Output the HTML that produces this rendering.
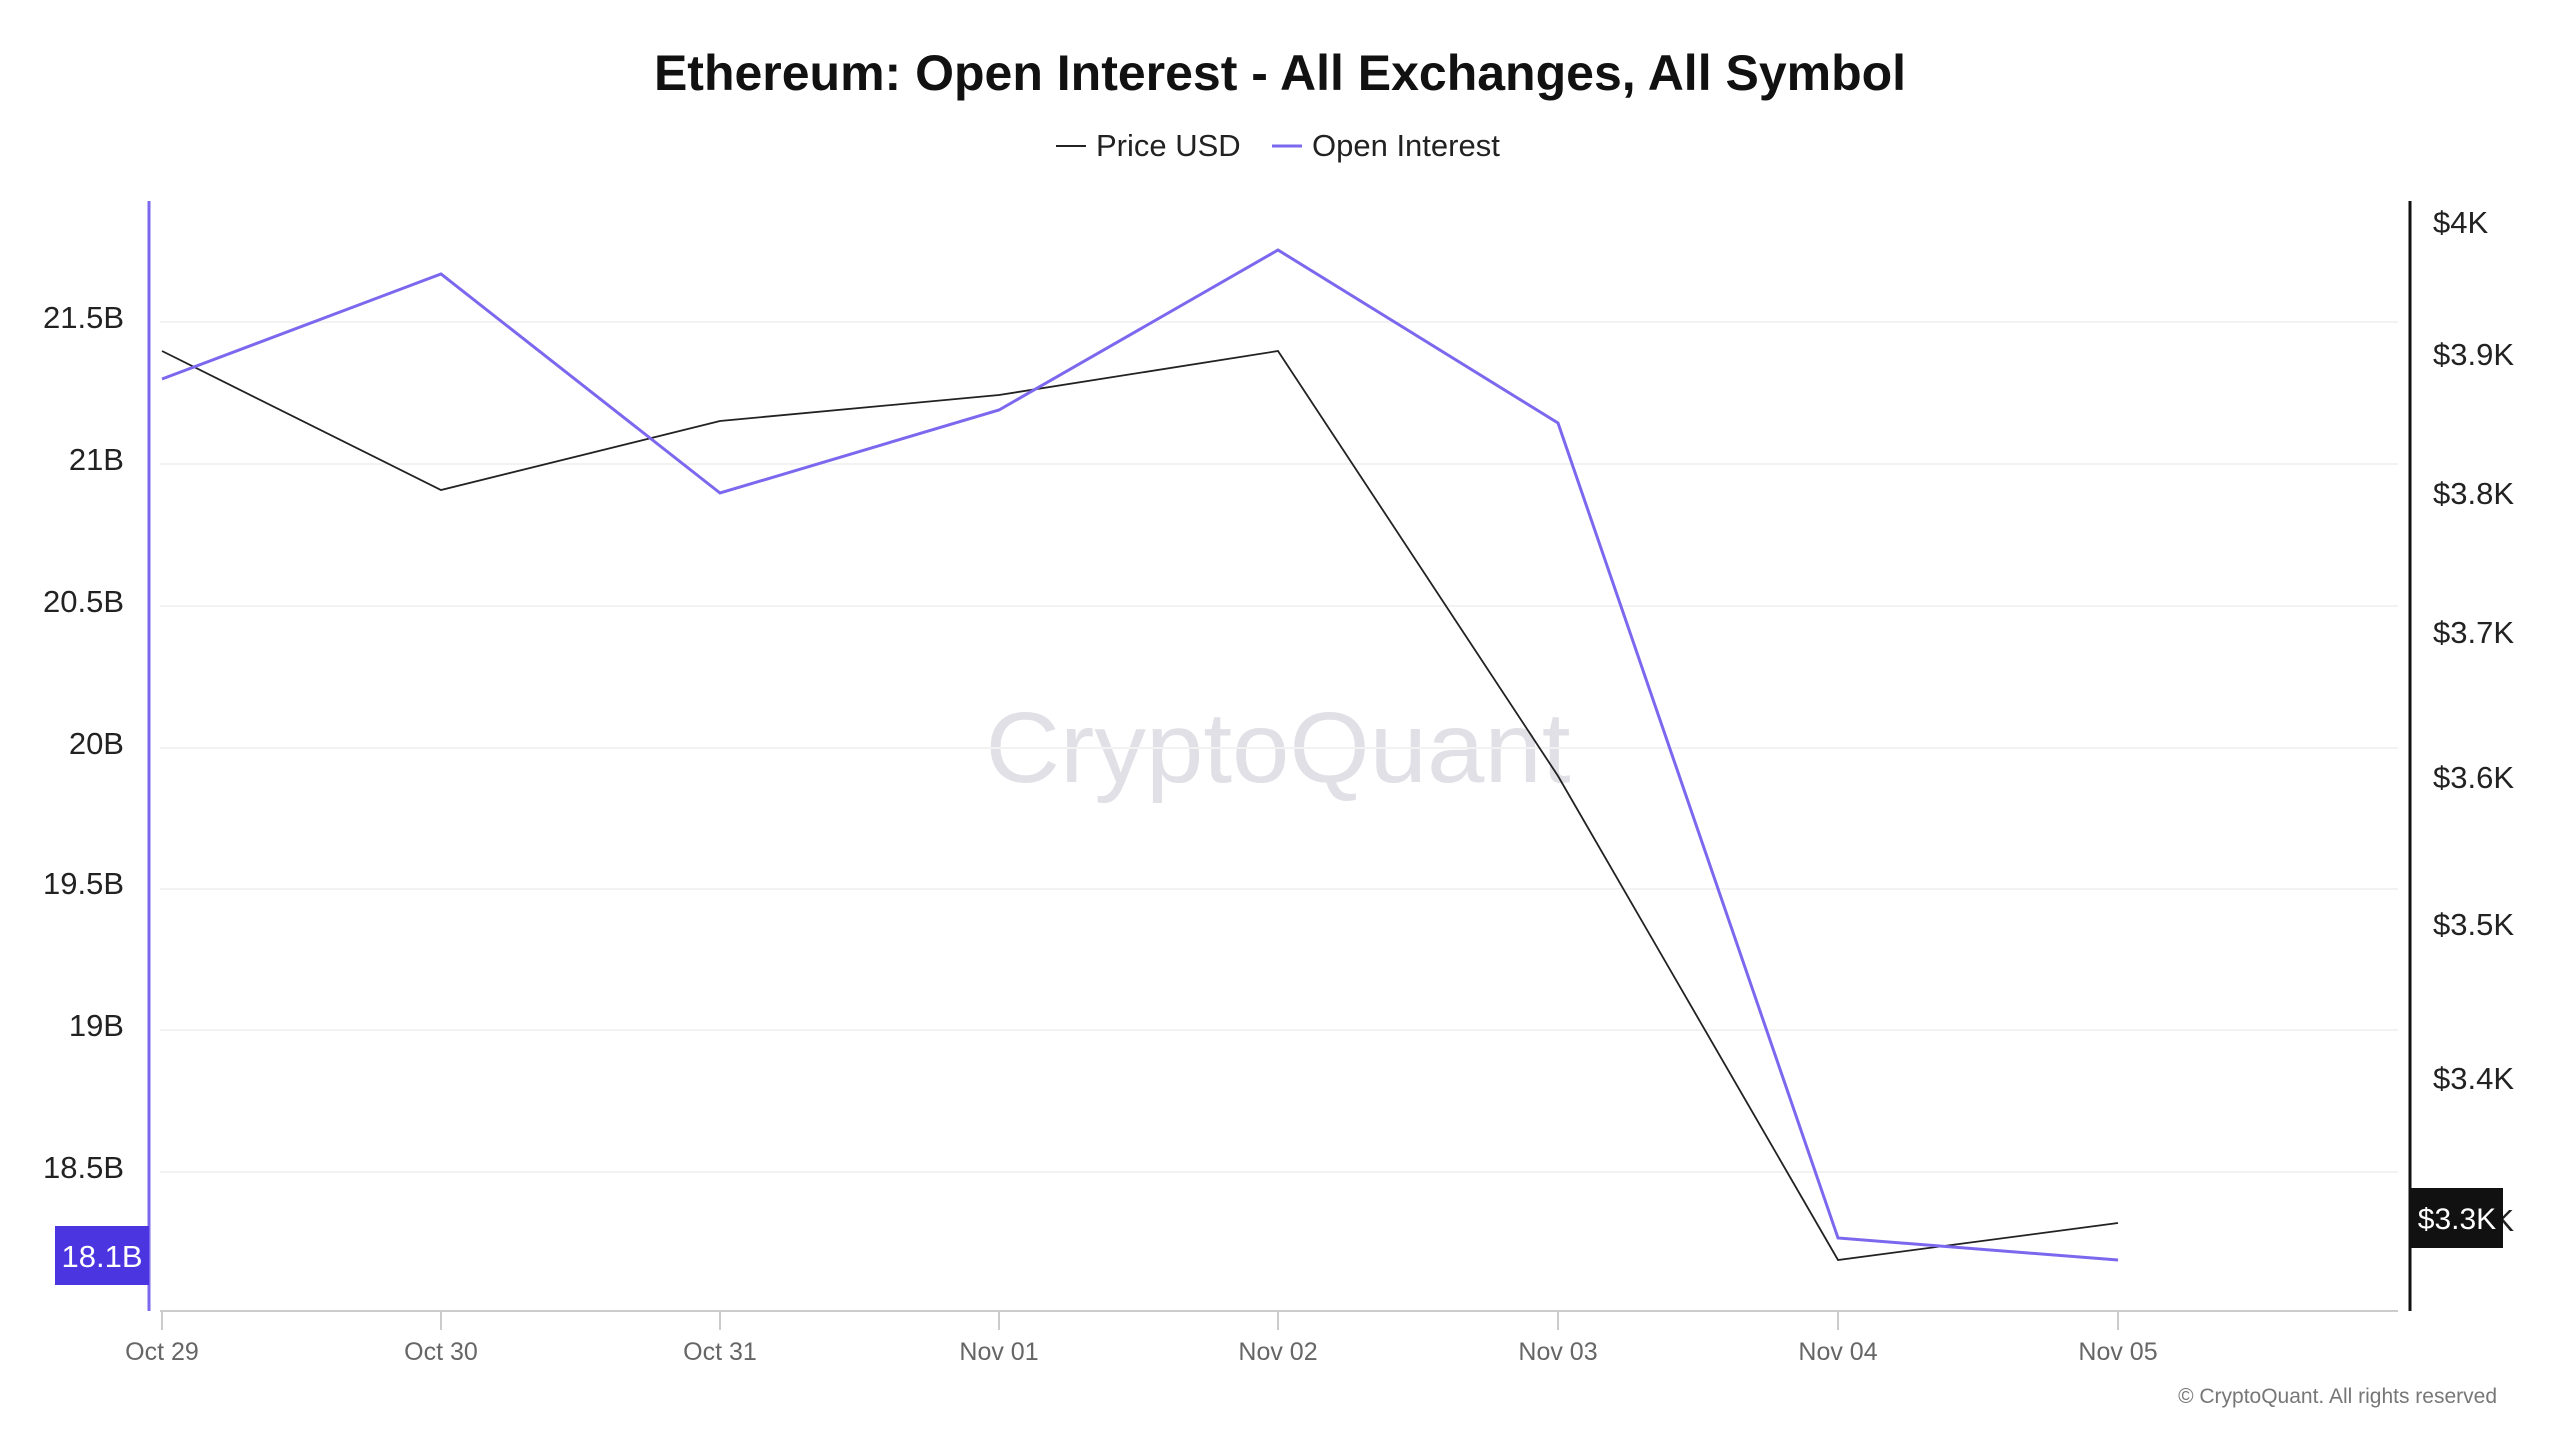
<!DOCTYPE html>
<html><head><meta charset="utf-8"><style>
html,body{margin:0;padding:0;background:#fff;}
svg{display:block;font-family:"Liberation Sans",sans-serif;}
</style></head><body>
<svg width="2560" height="1440" viewBox="0 0 2560 1440" xmlns="http://www.w3.org/2000/svg">
<rect width="2560" height="1440" fill="#fff"/>
<text x="1280" y="90" text-anchor="middle" font-size="50" font-weight="bold" fill="#111">Ethereum: Open Interest - All Exchanges, All Symbol</text>
<line x1="1056" y1="146" x2="1086" y2="146" stroke="#222" stroke-width="2"/>
<text x="1096" y="156" font-size="31" fill="#222">Price USD</text>
<line x1="1272" y1="146" x2="1302" y2="146" stroke="#7b68ee" stroke-width="3"/>
<text x="1312" y="156" font-size="31" fill="#222">Open Interest</text>
<text x="1278" y="782" text-anchor="middle" font-size="100" fill="#e0e0e6" textLength="585" lengthAdjust="spacingAndGlyphs">CryptoQuant</text>
<g stroke="#f2f2f2" stroke-width="2">
<line x1="160" y1="322" x2="2398" y2="322"/><line x1="160" y1="464" x2="2398" y2="464"/>
<line x1="160" y1="606" x2="2398" y2="606"/><line x1="160" y1="748" x2="2398" y2="748"/>
<line x1="160" y1="889" x2="2398" y2="889"/><line x1="160" y1="1030" x2="2398" y2="1030"/>
<line x1="160" y1="1172" x2="2398" y2="1172"/>
</g>
<line x1="160" y1="1311" x2="2398" y2="1311" stroke="#ccc" stroke-width="2"/>
<g stroke="#ccc" stroke-width="2">
<line x1="162" y1="1311" x2="162" y2="1330"/><line x1="441" y1="1311" x2="441" y2="1330"/>
<line x1="720" y1="1311" x2="720" y2="1330"/><line x1="999" y1="1311" x2="999" y2="1330"/>
<line x1="1278" y1="1311" x2="1278" y2="1330"/><line x1="1558" y1="1311" x2="1558" y2="1330"/>
<line x1="1838" y1="1311" x2="1838" y2="1330"/><line x1="2118" y1="1311" x2="2118" y2="1330"/>
</g>
<g font-size="25" fill="#666" text-anchor="middle">
<text x="162" y="1360">Oct 29</text><text x="441" y="1360">Oct 30</text><text x="720" y="1360">Oct 31</text>
<text x="999" y="1360">Nov 01</text><text x="1278" y="1360">Nov 02</text><text x="1558" y="1360">Nov 03</text>
<text x="1838" y="1360">Nov 04</text><text x="2118" y="1360">Nov 05</text>
</g>
<line x1="149" y1="201" x2="149" y2="1311" stroke="#7b68ee" stroke-width="3"/>
<line x1="2410" y1="201" x2="2410" y2="1311" stroke="#111" stroke-width="3"/>
<g font-size="31" fill="#222" text-anchor="end">
<text x="124" y="328">21.5B</text><text x="124" y="470">21B</text><text x="124" y="612">20.5B</text>
<text x="124" y="754">20B</text><text x="124" y="894">19.5B</text><text x="124" y="1036">19B</text>
<text x="124" y="1178">18.5B</text>
</g>
<g font-size="31" fill="#222">
<text x="2433" y="233">$4K</text><text x="2433" y="365">$3.9K</text><text x="2433" y="504">$3.8K</text>
<text x="2433" y="643">$3.7K</text><text x="2433" y="788">$3.6K</text><text x="2433" y="935">$3.5K</text>
<text x="2433" y="1089">$3.4K</text><text x="2433" y="1231">$3.3K</text>
</g>
<polyline fill="none" stroke="#222" stroke-width="1.8" points="162,351 441,490 720,421 999,395 1278,351 1558,776 1838,1260 2118,1223"/>
<polyline fill="none" stroke="#7b68ee" stroke-width="3" points="162,379 441,274 720,493 999,410 1278,250 1558,423 1838,1238 2118,1260"/>
<rect x="55" y="1226" width="94" height="59" fill="#4a35e0"/>
<text x="102" y="1267" text-anchor="middle" font-size="31" fill="#fff">18.1B</text>
<rect x="2411" y="1188" width="92" height="60" fill="#111"/>
<text x="2457" y="1229" text-anchor="middle" font-size="30" fill="#fff">$3.3K</text>
<text x="2497" y="1403" text-anchor="end" font-size="21" fill="#777">© CryptoQuant. All rights reserved</text>
</svg>
</body></html>
